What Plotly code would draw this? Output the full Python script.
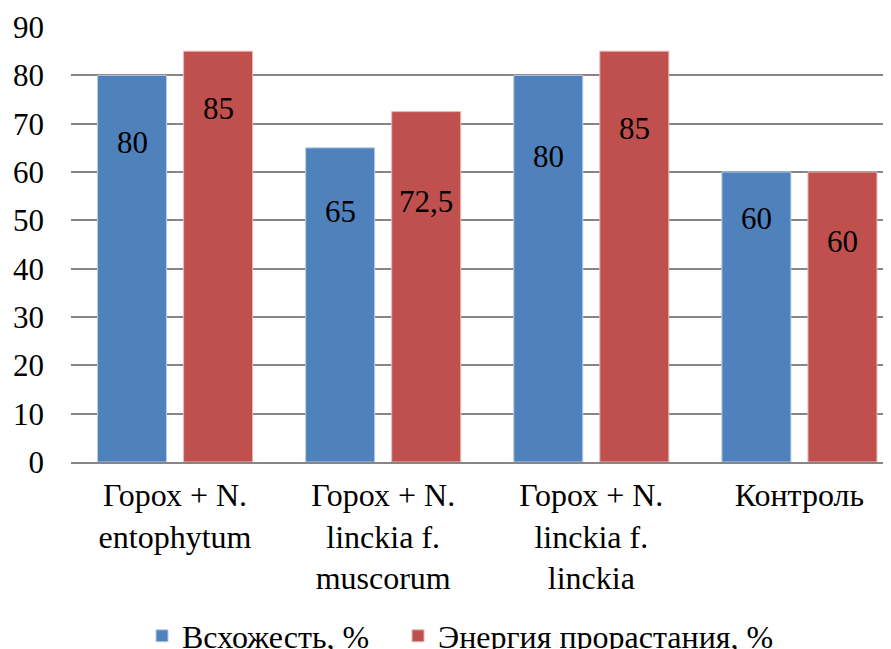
import plotly.graph_objects as go

categories = ["Горох + N.<br>entophytum", "Горох + N.<br>linckia f.<br>muscorum",
              "Горох + N.<br>linckia f.<br>linckia", "Контроль"]
series_names = ["Всхожесть, %", "Энергия прорастания, %"]
vschozhest = [80, 65, 80, 60]
energiya = [85, 72.5, 85, 60]
label_text_blue = ["80", "65", "80", "60"]
label_text_red = ["85", "72,5", "85", "60"]
# vertical placement of the data labels (in axis units), as seen in the reference
label_y_blue = [66.1, 51.8, 63.2, 50.4]
label_y_red = [73.2, 53.9, 69.0, 45.6]

BLUE = "#4F81BD"
RED = "#C0504D"
FONT = "Liberation Serif"

fig = go.Figure()
fig.add_trace(go.Bar(x=categories, y=vschozhest, name=series_names[0], legend="legend",
                     marker=dict(color=BLUE, line=dict(color="#B9CDE5", width=1))))
fig.add_trace(go.Bar(x=categories, y=energiya, name=series_names[1], legend="legend2",
                     marker=dict(color=RED, line=dict(color="#E6B9B8", width=1))))

for i, c in enumerate(categories):
    fig.add_annotation(x=c, y=label_y_blue[i], text=label_text_blue[i], showarrow=False,
                       xshift=-43, font=dict(family=FONT, size=31, color="black"))
    fig.add_annotation(x=c, y=label_y_red[i], text=label_text_red[i], showarrow=False,
                       xshift=43, font=dict(family=FONT, size=31, color="black"))

legend_style = dict(orientation="h", xanchor="left", y=-0.40, yanchor="middle",
                    font=dict(family=FONT, size=32, color="black"), itemwidth=30,
                    bgcolor="rgba(0,0,0,0)")

# page body has an 8px margin, so the figure is 883x641 and starts at (8, 8)
fig.update_layout(
    width=883, height=641,
    margin=dict(l=63, r=0, t=19, b=187, autoexpand=False),
    paper_bgcolor="white", plot_bgcolor="white",
    barmode="group", bargap=0.173, bargroupgap=0.198,
    font=dict(family=FONT, size=31, color="black"),
    showlegend=True,
    legend=dict(x=0.0866, **legend_style),
    legend2=dict(x=0.3988, **legend_style),
)
fig.update_xaxes(range=[-0.5, 3.44], showline=True, linecolor="#868686", linewidth=1.5,
                 ticks="", showgrid=False, ticklabelstandoff=4,
                 tickfont=dict(family=FONT, size=32, color="black"))
fig.update_yaxes(range=[0, 90], dtick=10, showgrid=True, gridcolor="#868686", gridwidth=1.5,
                 zeroline=False, showline=False, ticks="", ticklabelstandoff=26,
                 tickfont=dict(family=FONT, size=31, color="black"))

fig.write_html("out.html")
